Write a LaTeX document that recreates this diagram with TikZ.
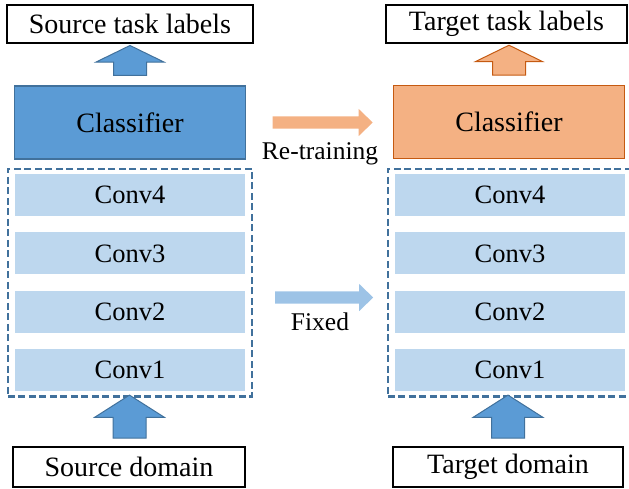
\documentclass[tikz,border=0pt]{standalone}
\usepackage{fontspec}
\setmainfont{Liberation Serif}
\usetikzlibrary{positioning,fit,calc,shapes.arrows}

\definecolor{clsblue}{HTML}{5B9BD5}
\definecolor{edgeblue}{HTML}{41719C}
\definecolor{convblue}{HTML}{BDD7EE}
\definecolor{fixblue}{HTML}{9DC3E6}
\definecolor{clsorange}{HTML}{F4B183}
\definecolor{edgeorange}{HTML}{C55A11}

\begin{document}
\begin{tikzpicture}[x=1pt,y=-1pt,
			every node/.style={font=\fontsize{26.5}{30}\selectfont},
			labelbox/.style={draw, line width=1.8pt, minimum height=38pt, inner sep=0pt, font=\fontsize{28}{30}\selectfont},
			clsbox/.style={draw=#1, line width=1.8pt, minimum width=231pt, minimum height=73pt, inner sep=0pt, font=\fontsize{28}{30}\selectfont},
			convbar/.style={fill=convblue, minimum width=230pt, minimum height=42pt, inner sep=0pt},
			fixbox/.style={draw=edgeblue, line width=2.4pt, dash pattern=on 7pt off 3.5pt, inner xsep=7pt, inner ysep=5pt},
			blockup/.style={single arrow, rotate=90, draw=#1, line width=1pt, inner xsep=0pt, inner ysep=16pt},
			blockright/.style={single arrow, fill=#1, inner xsep=0pt, inner ysep=6pt, minimum height=100pt, single arrow head extend=7.5pt, single arrow tip angle=88},
			sidetext/.style={font=\fontsize{25.5}{30}\selectfont, inner sep=0pt}
			]
			\useasboundingbox (0,0) rectangle (629,488);
			
			% Source network
			\node[labelbox, minimum width=246pt] (srclab) at (130,24) {Source task labels};
			\node[clsbox=edgeblue, fill=clsblue] (srccls) at (130,122.5) {Classifier};
			\node[convbar] (sc4) at (130,195) {Conv4};
			\node[convbar, below=16pt of sc4] (sc3) {Conv3};
			\node[convbar, below=16pt of sc3] (sc2) {Conv2};
			\node[convbar, below=16pt of sc2] (sc1) {Conv1};
			\node[fixbox, fit=(sc4)(sc1)] (sfix) {};
			\node[labelbox, minimum width=232pt, minimum height=40pt] (srcdom) at (129,467) {Source domain};
			
			% Target network
			\node[labelbox, minimum width=241pt] (tgtlab) at (506.5,24) {Target task labels};
			\node[clsbox=edgeorange, fill=clsorange] (tgtcls) at (509,122) {Classifier};
			\node[convbar] (tc4) at (510,195) {Conv4};
			\node[convbar, below=16pt of tc4] (tc3) {Conv3};
			\node[convbar, below=16pt of tc3] (tc2) {Conv2};
			\node[convbar, below=16pt of tc2] (tc1) {Conv1};
			\node[fixbox, fit=(tc4)(tc1)] (tfix) {};
			\node[labelbox, minimum width=230pt, minimum height=40pt] (tgtdom) at (508,467) {Target domain};
			
			% Block arrows up
			\node[blockup=edgeblue, fill=clsblue, minimum height=30pt, single arrow head extend=17.5pt, single arrow tip angle=128] (sup) at ($(srccls.north)!.5!(srclab.south)$) {};
			\node[blockup=edgeorange, fill=clsorange, minimum height=30pt, single arrow head extend=17pt, single arrow tip angle=128] (tup) at ($(tgtcls.north)!.5!(tgtcls.north |- tgtlab.south)$) {};
			\node[blockup=edgeblue, fill=clsblue, minimum height=43pt, single arrow head extend=18.5pt, single arrow tip angle=115] (sdn) at ($(sfix.south)!.5!(srcdom.north)$) {};
			\node[blockup=edgeblue, fill=clsblue, minimum height=43pt, single arrow head extend=18.5pt, single arrow tip angle=115] (tdn) at ($(tfix.south -| tgtdom.north)!.5!(tgtdom.north)$) {};
			
			% Between source and target
			\node[blockright=clsorange] (retrain) at (319.5,122.5) {};
			\node[sidetext] (retrainlab) at (320,154) {Re-training};
			\node[blockright=fixblue, minimum height=98pt] (fixed) at (321,297.5) {};
			\node[sidetext] (fixedlab) at (320,322) {Fixed};
		\end{tikzpicture}
\end{document}
